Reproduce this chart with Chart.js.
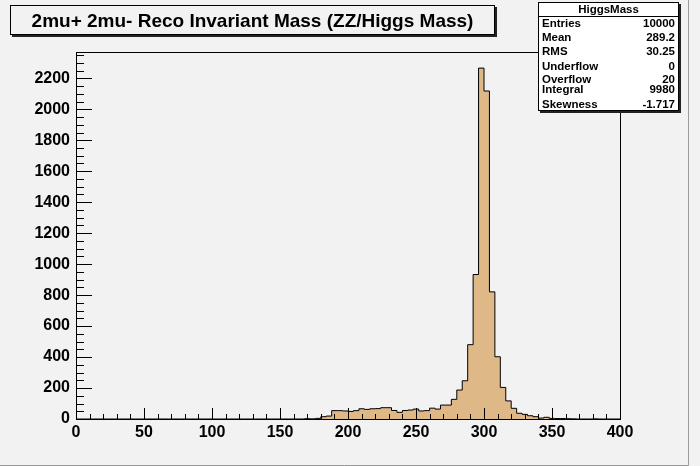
<!DOCTYPE html>
<html>
<head>
<meta charset="utf-8">
<script src="https://cdn.jsdelivr.net/npm/chart.js@4.4.0/dist/chart.umd.min.js"></script>
<style>
  html, body { margin: 0; padding: 0; background: #f2f2f2; }
  #wrap { position: relative; width: 700px; height: 466px; overflow: hidden; }
  #chart { position: absolute; left: 0; top: 0; }
  #title {
    position: absolute; left: 10px; top: 5px; width: 483px; height: 28px;
    border: 1px solid #000; box-shadow: 2px 2px 0 #222; background: #f2f2f2;
    font: bold 19px "Liberation Sans", Arial, sans-serif; text-align: center; line-height: 29px;
    white-space: nowrap;
  }
  #stats {
    position: absolute; left: 538px; top: 2px; width: 139px; height: 107px;
    border: 1px solid #000; box-shadow: 2px 2px 0 #222; background: #fff;
    font: bold 11.5px "Liberation Sans", Arial, sans-serif;
  }
  #stats .head { position: absolute; left: 0; right: 0; top: 0; height: 13px; line-height: 13px; text-align: center; border-bottom: 1px solid #000; }
  #stats .row { position: absolute; left: 3px; right: 3px; height: 12px; line-height: 12px; }
  #stats .row span:last-child { position: absolute; right: 0; }
</style>
</head>
<body>
<div id="wrap">
  <canvas id="chart" width="700" height="466"></canvas>
  <div id="title"></div>
  <div id="stats"></div>
</div>
<script>
const chartTitle = "2mu+ 2mu- Reco Invariant Mass (ZZ/Higgs Mass)";
const histName = "HiggsMass";

// histogram: 100 bins of width 4 from 0 to 400
const binLow = 0;
const binWidth = 4;
const counts = [
  0, 0, 0, 0, 0, 0, 0, 0, 0, 0,
  0, 0, 0, 0, 0, 0, 0, 0, 0, 0,
  0, 0, 0, 0, 0, 0, 0, 0, 0, 0,
  0, 0, 0, 0, 0, 0, 0, 0, 0, 0,
  0, 0, 2, 1, 4, 15, 19, 54, 54, 52,
  49, 54, 66, 62, 66, 67, 73, 73, 55, 43,
  55, 58, 64, 52, 54, 70, 64, 90, 90, 127,
  187, 247, 480, 933, 2266, 2118, 821, 402, 204, 117,
  69, 37, 30, 21, 15, 6, 11, 4, 3, 3,
  2, 1, 0, 0, 0, 1, 0, 0, 0, 0
];

const xTickValues = [0, 50, 100, 150, 200, 250, 300, 350, 400];
const yTickValues = [0, 200, 400, 600, 800, 1000, 1200, 1400, 1600, 1800, 2000, 2200];

const statsLabels = ["Entries", "Mean", "RMS", "Underflow", "Overflow", "Integral", "Skewness"];
const statsValues = ["10000", "289.2", "30.25", "0", "20", "9980", "-1.717"];
const statsRowTop = [14, 28, 42, 57, 70, 80, 95];

document.getElementById("title").textContent = chartTitle;

const statsBox = document.getElementById("stats");
statsBox.innerHTML = '<div class="head"></div>';
statsBox.querySelector(".head").textContent = histName;
statsLabels.forEach((label, i) => {
  const row = document.createElement("div");
  row.className = "row";
  row.style.top = statsRowTop[i] + "px";
  const a = document.createElement("span");
  a.textContent = label;
  const b = document.createElement("span");
  b.textContent = statsValues[i];
  row.appendChild(a);
  row.appendChild(b);
  statsBox.appendChild(row);
});

// step outline: one point per bin low edge, plus the upper edge of the last bin
const points = counts.map((c, i) => ({ x: binLow + i * binWidth, y: c }));
points.push({ x: binLow + counts.length * binWidth, y: counts[counts.length - 1] });

const tickFont = { family: "'Liberation Sans', Arial, sans-serif", size: 16, weight: "bold" };

// ROOT-style frame with ticks drawn inward
const frameTicks = {
  id: "frameTicks",
  afterDatasetsDraw(chart) {
    const { ctx, chartArea: a, scales: { x, y } } = chart;
    ctx.save();
    ctx.strokeStyle = "#000";
    ctx.lineWidth = 1;
    ctx.beginPath();
    for (let v = 0; v <= y.max; v += 50) {
      const py = Math.round(y.getPixelForValue(v)) + 0.5;
      const len = v % 200 === 0 ? 16 : 8;
      ctx.moveTo(a.left, py);
      ctx.lineTo(a.left + len, py);
    }
    for (let v = x.min; v <= x.max; v += 10) {
      const px = Math.round(x.getPixelForValue(v)) + 0.5;
      const len = v % 50 === 0 ? 11 : 5;
      ctx.moveTo(px, a.bottom);
      ctx.lineTo(px, a.bottom - len);
    }
    ctx.stroke();
    ctx.strokeRect(Math.round(a.left) + 0.5, Math.round(a.top) + 0.5,
      Math.round(a.right - a.left), Math.round(a.bottom - a.top));
    // canvas bevel
    ctx.strokeStyle = "#9a9a9a";
    ctx.beginPath();
    ctx.moveTo(688.5, 0);
    ctx.lineTo(688.5, 465.5);
    ctx.lineTo(0, 465.5);
    ctx.stroke();
    ctx.restore();
  }
};

new Chart(document.getElementById("chart"), {
  type: "line",
  data: {
    datasets: [{
      label: histName,
      data: points,
      stepped: true,
      fill: "origin",
      backgroundColor: "#deb887",
      borderColor: "#000",
      borderWidth: 1,
      pointRadius: 0
    }]
  },
  options: {
    responsive: false,
    animation: false,
    layout: { padding: { left: 0, top: 52, right: 80, bottom: 0 } },
    scales: {
      x: {
        type: "linear",
        min: 0,
        max: 400,
        afterBuildTicks: s => { s.ticks = xTickValues.map(v => ({ value: v })); },
        afterFit: s => { s.height = 47; },
        grid: { display: false, drawTicks: false },
        border: { display: false },
        ticks: { font: tickFont, color: "#000", padding: 4, maxRotation: 0, autoSkip: false,
                 callback: v => String(v) }
      },
      y: {
        min: 0,
        max: 2370,
        afterBuildTicks: s => { s.ticks = yTickValues.map(v => ({ value: v })); },
        afterFit: s => { s.width = 76; },
        grid: { display: false, drawTicks: false },
        border: { display: false },
        ticks: { font: tickFont, color: "#000", padding: 6, autoSkip: false,
                 callback: v => String(v) }
      }
    },
    plugins: {
      legend: { display: false },
      tooltip: { enabled: false }
    }
  },
  plugins: [frameTicks]
});
</script>
</body>
</html>
